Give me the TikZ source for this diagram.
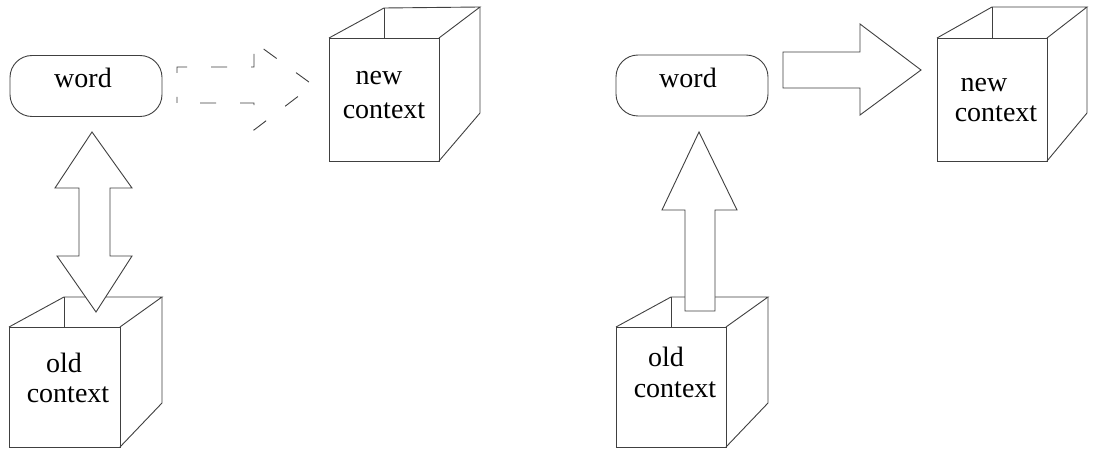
\documentclass[tikz,border=0pt]{standalone}
\usepackage{fontspec}
\setmainfont{Liberation Serif}
\begin{document}
\begin{tikzpicture}[x=1pt,y=-1pt,
  ln/.style={draw=black!75, line width=0.9pt, line join=miter},
  blockarrow/.style={ln, fill=white},
  dasharrow/.style={ln, dash pattern=on 16pt off 24pt, dash phase=10pt},
  pill/.style={ln, rounded corners=22pt, minimum width=152pt, minimum height=61pt, inner sep=0pt},
  lbl/.style={font=\fontsize{28}{30}\selectfont, anchor=base, inner sep=0pt, text=black}]
\useasboundingbox[fill=white] (0,0) rectangle (1094,449);

% ---------- left panel ----------
% new context cube (left)
\draw[ln] (329,38) rectangle (439,161);
\draw[ln] (329,38) -- (384,8) -- (480,7) -- (439,38);
\draw[ln] (384,8) -- (384,38);
\draw[ln] (480,7) -- (480,113) -- (439,161);
\node[lbl] (newL) at (379,85) {new};
\node[lbl] (ctxNL) at (384,119) {context};

% old context cube (left)
\draw[ln] (9,327) rectangle (120,447);
\draw[ln] (9,327) -- (64,297) -- (162,297) -- (120,327);
\draw[ln] (64,297) -- (64,327);
\draw[ln] (162,297) -- (162,403) -- (120,447);
\node[lbl] (oldL) at (64,372) {old};
\node[lbl] (ctxOL) at (68,402) {context};

% word pill (left)
\node[pill] (wordboxL) at (86,86) {};
\node[lbl] (wordL) at (83,88) {word};

% dashed block arrow word -> new context
\draw[dasharrow] (177,103) -- (177,67) -- (254,67) -- (254,42) -- (313,85)
  -- (254,130) -- (254,103) -- cycle;

% double block arrow word <-> old context
\draw[blockarrow] (92,132) -- (132,188) -- (110,188) -- (110,256) -- (132,256)
  -- (96,312) -- (57,256) -- (79,256) -- (79,188) -- (55,188) -- cycle;

% ---------- right panel ----------
% new context cube (right)
\draw[ln] (937,38) rectangle (1047,161);
\draw[ln] (937,38) -- (992,7) -- (1087,7) -- (1047,38);
\draw[ln] (992,7) -- (992,38);
\draw[ln] (1087,7) -- (1087,113) -- (1047,161);
\node[lbl] (newR) at (984,92) {new};
\node[lbl] (ctxNR) at (996,122) {context};

% old context cube (right)
\draw[ln] (616,327) rectangle (726,447);
\draw[ln] (616,327) -- (671,297) -- (768,297) -- (726,327);
\draw[ln] (671,297) -- (671,327);
\draw[ln] (768,297) -- (768,403) -- (726,447);
\node[lbl] (oldR) at (666,366) {old};
\node[lbl] (ctxOR) at (675,397) {context};

% word pill (right)
\node[pill] (wordboxR) at (692,85.5) {};
\node[lbl] (wordR) at (688,88) {word};

% solid block arrow word -> new context
\draw[blockarrow] (783,52) -- (860,52) -- (860,24) -- (921,70) -- (860,115)
  -- (860,88) -- (783,88) -- cycle;

% up block arrow old context -> word
\draw[blockarrow] (699,132) -- (737,210) -- (715,210) -- (715,311) -- (685,311)
  -- (685,210) -- (662,210) -- cycle;
\end{tikzpicture}
\end{document}
